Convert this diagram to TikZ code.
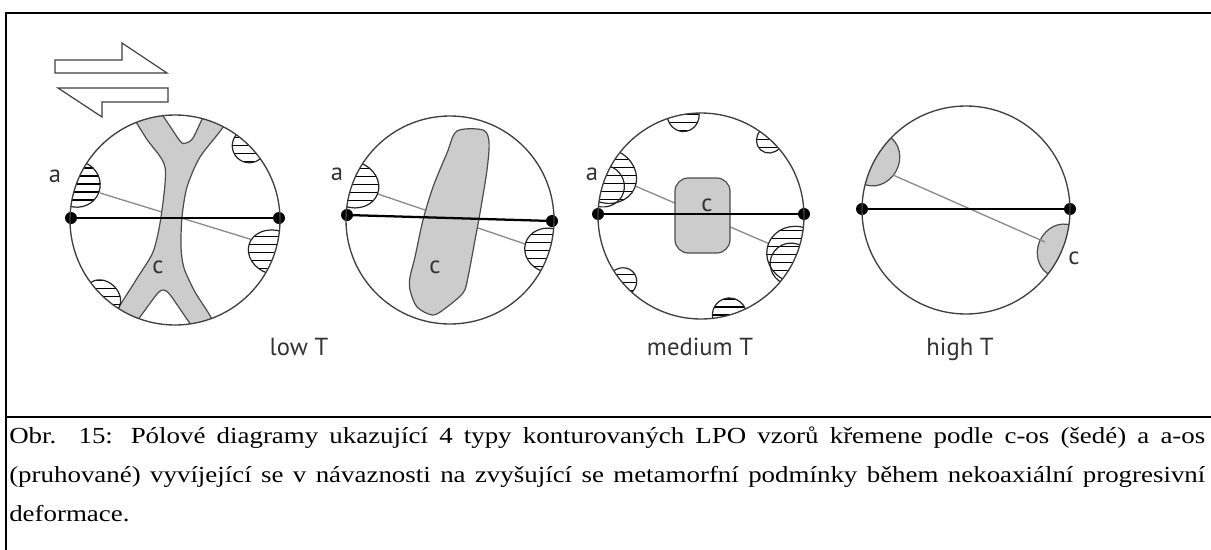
\documentclass[tikz,border=0pt]{standalone}
\usepackage{fontspec}
\setmainfont{Liberation Serif}
\newfontfamily\labfont{PT Sans}
\newfontfamily\capfont[FakeStretch=1.17]{Liberation Serif}
\usetikzlibrary{calc}
\newcommand\hlobe[6]{%
\begin{scope}
  \clip (#1,#2) circle (#3);
  \begin{scope}[shift={($(#1,#2)+(#4:#3)$)}]
    \begin{scope}
      \clip[rotate={-(#4)}] (0,0) ellipse (#5 and #6);
      \fill[white] (-80,-80) rectangle (80,80);
      \foreach \k in {-9,...,9} \draw[hatch] (-80,\k*8) -- (80,\k*8);
    \end{scope}
    \draw[lobeline, rotate={-(#4)}] (0,0) ellipse (#5 and #6);
  \end{scope}
\end{scope}}
\newcommand\olobe[6]{%
\begin{scope}
  \clip (#1,#2) circle (#3);
  \draw[lobeline, shift={($(#1,#2)+(#4:#3)$)}, rotate={-(#4)}] (0,0) ellipse (#5 and #6);
\end{scope}}
\newcommand\globe[6]{%
\begin{scope}
  \clip (#1,#2) circle (#3);
  \path[cfill, shift={($(#1,#2)+(#4:#3)$)}, rotate={-(#4)}] (0,0) ellipse (#5 and #6);
\end{scope}}
\begin{document}
\begin{tikzpicture}[x=0.75pt,y=-0.75pt,
  frameline/.style={line width=2pt},
  rim/.style={draw=black!75, line width=1pt},
  axisline/.style={line width=1.7pt},
  pole/.style={circle, fill=black, inner sep=0pt, minimum size=9pt},
  graytrace/.style={draw=black!45, line width=1pt},
  cfill/.style={fill=black!20, draw=black!70, line width=0.9pt},
  hatch/.style={line width=0.9pt},
  lobeline/.style={draw=black!85, line width=0.9pt},
  lab/.style={font=\labfont\fontsize{18.5}{20}\selectfont, text=black!80, inner sep=0pt},
  shear/.style={draw=black!75, line width=0.9pt, fill=white},
  captionline/.style={font=\capfont\fontsize{17.25}{20}\selectfont, inner sep=0pt, anchor=base west}]

\useasboundingbox (0,0) rectangle (1211,550);
\fill[white] (0,0) rectangle (1211,550);

% frame
\coordinate (ftl) at (6,13);
\coordinate (ftr) at (1211,13);
\coordinate (fbl) at (6,550);
\coordinate (fsl) at (6,417);
\coordinate (fsr) at (1211,417);
\draw[frameline] (ftr) -- (ftl) -- (fbl);
\draw[frameline] (fsl) -- (fsr);

% shear sense arrows
\draw[shear] (55,60) -- (122,60) -- (122,43) -- (167,73) -- (55,73) -- cycle;
\draw[shear] (58,88) -- (168,88) -- (168,102) -- (102,102) -- (102,117) -- cycle;

% ---------- circle 1 : low T ----------
\coordinate (t1a) at (100,193);
\coordinate (t1b) at (253,240);
\draw[graytrace] (t1a) -- (t1b);
\begin{scope}
  \clip (175,220) circle (105);
  \path[cfill] plot[smooth cycle, tension=0.45] coordinates {
    (128,106) (146,138) (165,167) (161,217) (153,252) (136,280) (111,322)
    (123,332) (136,322) (157,294) (164,290) (171,296) (192,326) (203,334)
    (213,322) (195,292) (184,268) (181,247) (182,217) (187,187) (200,157)
    (226,122) (215,108) (205,114) (193,138) (186,143) (180,141) (160,112) (145,102)};
\end{scope}
\hlobe{175}{220}{105}{200}{24}{23}
\hlobe{175}{220}{105}{18}{27}{22}
\hlobe{175}{220}{105}{-45}{17}{17}
\hlobe{175}{220}{105}{133}{15}{19}
\node[pole] (p1l) at (71,218) {};
\node[pole] (p1r) at (279,218) {};
\draw[axisline] (p1l.center) -- (p1r.center);
\draw[rim] (175,220) circle (105);
\node[lab] (a1) at (55,176) {a};
\node[lab] (c1) at (158,267) {c};

% ---------- circle 2 ----------
\coordinate (t2a) at (375,193);
\coordinate (t2b) at (528,245);
\draw[graytrace] (t2a) -- (t2b);
\path[cfill] plot[smooth cycle, tension=0.5] coordinates {
  (457,131) (483,130) (489,142) (487,170) (480,213) (475,240) (468,277)
  (463,293) (443,310) (432,315) (417,307) (410,290) (410,277) (415,257)
  (423,220) (433,187) (447,153)};
\hlobe{450}{220}{104}{200}{27}{23}
\hlobe{450}{220}{104}{17}{25}{22}
\node[pole] (p2l) at (347,215) {};
\node[pole] (p2r) at (552,221) {};
\draw[axisline] (p2l.center) -- (p2r.center);
\draw[rim] (450,220) circle (104);
\node[lab] (a2) at (337,174) {a};
\node[lab] (c2) at (435,267) {c};

% ---------- circle 3 : medium T ----------
\coordinate (t3a) at (633,185);
\coordinate (t3b) at (772,245);
\draw[graytrace] (t3a) -- (t3b);
\hlobe{701}{216}{103}{203}{31}{27}
\olobe{701}{216}{103}{197}{22}{21}
\hlobe{701}{216}{103}{22}{30}{28}
\olobe{701}{216}{103}{28}{22}{21}
\hlobe{701}{216}{103}{-100}{17}{16}
\hlobe{701}{216}{103}{-48}{14}{13}
\hlobe{701}{216}{103}{140}{15}{14}
\hlobe{701}{216}{103}{74}{17}{17}
\draw[cfill, rounded corners=10pt] (675,178) rectangle (730,253);
\node[pole] (p3l) at (598,214) {};
\node[pole] (p3r) at (804,214) {};
\draw[axisline] (p3l.center) -- (p3r.center);
\draw[rim] (701,216) circle (103);
\node[lab] (a3) at (592,174) {a};
\node[lab] (c3) at (707,205) {c};

% ---------- circle 4 : high T ----------
\coordinate (t4a) at (893,175);
\coordinate (t4b) at (1045,242);
\globe{966}{210}{104}{209}{24}{27}
\globe{966}{210}{104}{23}{24}{27}
\draw[graytrace] (t4a) -- (t4b);
\node[pole] (p4l) at (862,209) {};
\node[pole] (p4r) at (1070,209) {};
\draw[axisline] (p4l.center) -- (p4r.center);
\draw[rim] (966,210) circle (104);
\node[lab] (c4) at (1074,258) {c};

% temperature labels
\node[lab, anchor=base] (lowT) at (299,355) {low T};
\node[lab, anchor=base] (medT) at (700,355) {medium T};
\node[lab, anchor=base] (highT) at (960,355) {high T};

% caption
\node[captionline] (cap1) at (9,443) {\makebox[897pt][s]{Obr. 15: Pólové diagramy ukazující 4 typy konturovaných LPO vzorů křemene podle c-os (šedé) a a-os}};
\node[captionline] (cap2) at (9,482) {\makebox[897pt][s]{(pruhované) vyvíjející se v~návaznosti na zvyšující se metamorfní podmínky během nekoaxiální progresivní}};
\node[captionline] (cap3) at (9,521) {deformace.};
\end{tikzpicture}
\end{document}
